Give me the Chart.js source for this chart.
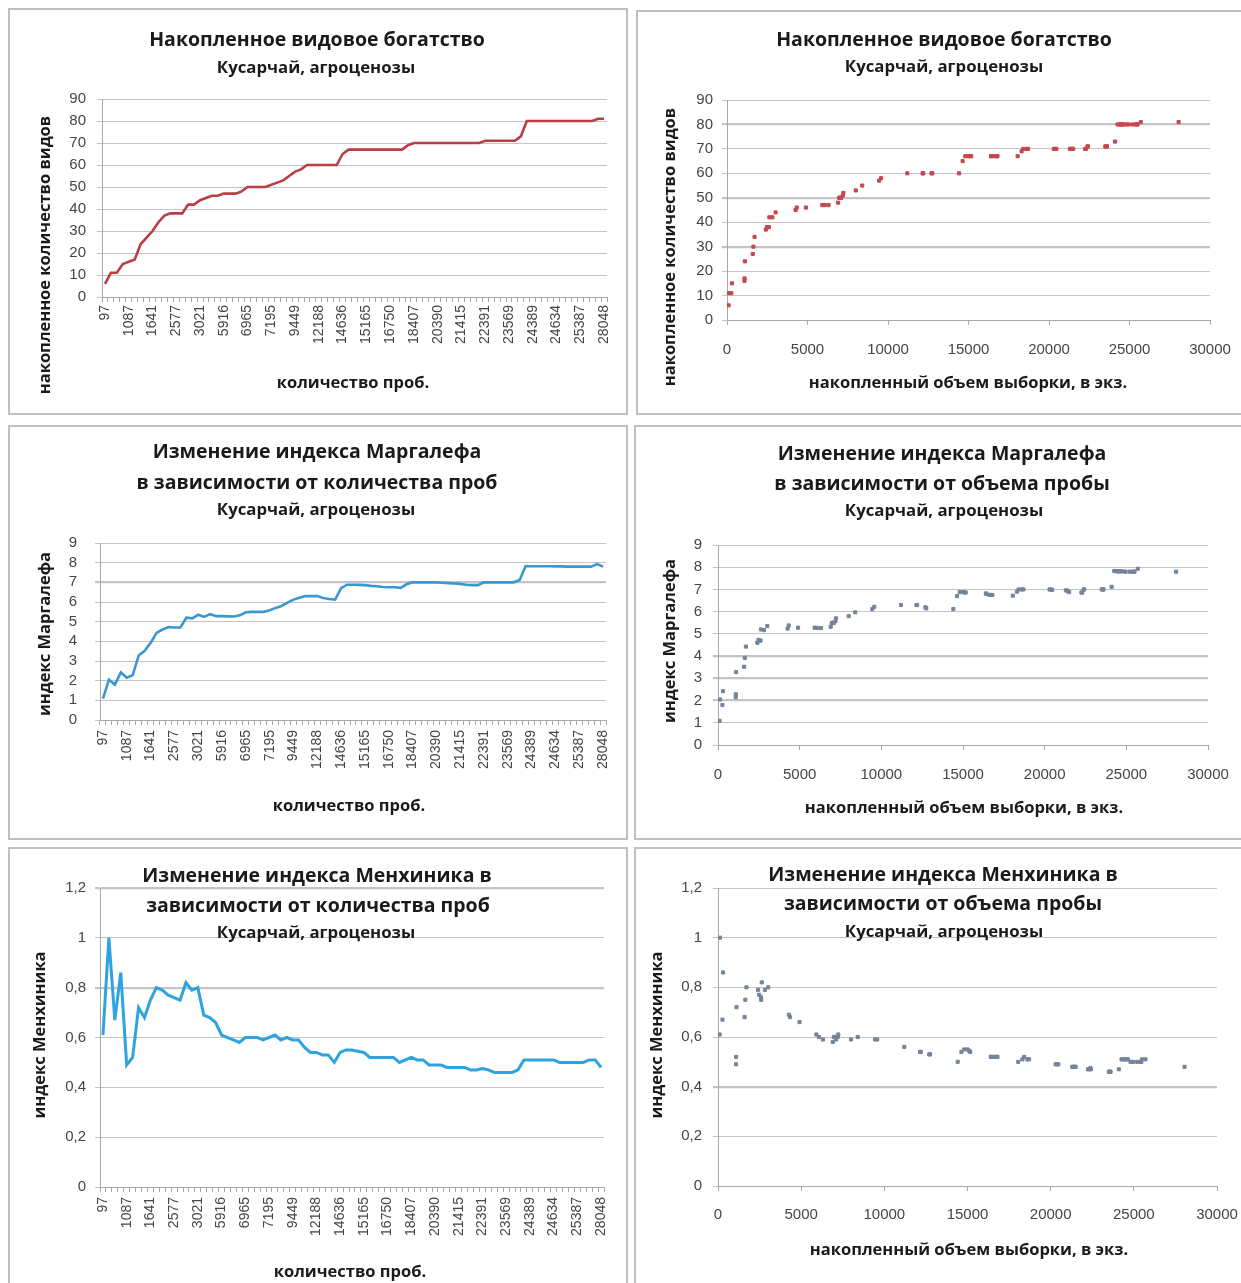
<!DOCTYPE html>
<html>
<head>
<meta charset="utf-8">
<script src="https://cdn.jsdelivr.net/npm/chart.js@4.4.1/dist/chart.umd.min.js"></script>
<style>
  html, body { margin: 0; padding: 0; background: #fff; }
  body { width: 1241px; height: 1283px; position: relative; overflow: hidden; }
  canvas { position: absolute; }
  .frame { position: absolute; box-sizing: border-box; border: 2px solid #c0c0c0; pointer-events: none; }
</style>
</head>
<body>
<script>
// Cumulative sample size (specimens) after each successive sample
const sampleSizes = [97,121,270,304,1087,1090,1110,1600,1641,1710,2410,2480,2577,2600,2630,2820,3021,4260,4330,4900,
  5916,6070,6310,6900,6965,7000,7050,7100,7195,7230,8000,8400,9449,9570,11200,12150,12188,12700,12750,14410,
  14636,14800,15000,15100,15165,16400,16430,16600,16750,16800,18050,18300,18407,18600,18700,20300,20390,20460,21300,21400,
  21415,21500,22250,22300,22391,22420,23500,23550,23569,23600,24100,24260,24389,24450,24500,24580,24634,24800,24950,25200,
  25387,25450,25500,25700,28048];

// Cumulative number of species
const speciesRichness = [6,11,11,15,16,17,24,27,30,34,37,38,38,38,42,42,44,45,46,46,
  47,47,47,48,50,50,50,50,51,52,53,55,57,58,60,60,60,60,60,60,
  65,67,67,67,67,67,67,67,67,67,67,69,70,70,70,70,70,70,70,70,
  70,70,70,70,71,71,71,71,71,71,73,80,80,80,80,80,80,80,80,80,
  80,80,80,81,81];

// Margalef index
const margalefIndex = [1.09,2.05,1.8,2.42,2.15,2.28,3.28,3.52,3.92,4.43,4.6,4.73,4.7,4.7,5.2,5.17,5.35,5.24,5.38,5.28,
  5.28,5.27,5.26,5.32,5.48,5.5,5.5,5.5,5.58,5.7,5.8,5.97,6.12,6.22,6.3,6.3,6.3,6.2,6.15,6.12,
  6.7,6.88,6.88,6.87,6.86,6.82,6.8,6.76,6.75,6.75,6.72,6.9,7.0,7.0,7.0,7.0,7.0,6.98,6.96,6.94,
  6.92,6.88,6.86,6.86,7.0,7.0,7.0,7.0,7.0,7.0,7.12,7.83,7.82,7.82,7.82,7.82,7.81,7.81,7.8,7.8,
  7.8,7.8,7.8,7.93,7.8];

// Menhinick index
const menhinickIndex = [0.61,1.0,0.67,0.86,0.49,0.52,0.72,0.68,0.75,0.8,0.79,0.77,0.76,0.75,0.82,0.79,0.8,0.69,0.68,0.66,
  0.61,0.6,0.59,0.58,0.6,0.6,0.6,0.59,0.6,0.61,0.59,0.6,0.59,0.59,0.56,0.54,0.54,0.53,0.53,0.5,
  0.54,0.55,0.55,0.545,0.54,0.52,0.52,0.52,0.52,0.52,0.5,0.51,0.52,0.51,0.51,0.49,0.49,0.49,0.48,0.48,
  0.48,0.48,0.47,0.47,0.475,0.47,0.46,0.46,0.46,0.46,0.47,0.51,0.51,0.51,0.51,0.51,0.51,0.5,0.5,0.5,
  0.5,0.5,0.51,0.51,0.48];

// Every 4th sample gets a label on the category axes
const LABEL_EVERY = 4;

const FONT_TEXT = "'Open Sans', 'DejaVu Sans', sans-serif";
const FONT_TICK = "'Liberation Sans', Arial, sans-serif";
const TEXT_COLOR = '#1a1a1a';
const TICK_COLOR = '#454545';
const GRID_COLOR = '#c4c4c4';
const AXIS_COLOR = '#a8a8a8';

Chart.defaults.animation = false;
Chart.defaults.font.family = FONT_TICK;

// Draws title lines and axis titles at fixed page positions
const panelText = {
  id: 'panelText',
  afterDraw(chart, args, opts) {
    const ctx = chart.ctx;
    for (const t of opts.items) {
      ctx.save();
      ctx.font = `bold ${t.size}px ${FONT_TEXT}`;
      ctx.fillStyle = TEXT_COLOR;
      ctx.textAlign = 'center';
      ctx.textBaseline = 'middle';
      ctx.translate(t.x - opts.ox, t.y - opts.oy);
      if (t.rotate) ctx.rotate(-Math.PI / 2);
      ctx.fillText(t.text, 0, 0);
      ctx.restore();
    }
  }
};

function makePanel(panel) {
  const c = document.createElement('canvas');
  c.width = panel.w; c.height = panel.h;
  Object.assign(c.style, { left: panel.x + 'px', top: panel.y + 'px', width: panel.w + 'px', height: panel.h + 'px' });
  document.body.appendChild(c);
  const f = document.createElement('div');
  f.className = 'frame';
  Object.assign(f.style, { left: panel.x + 'px', top: panel.y + 'px', width: panel.w + 'px', height: panel.h + 'px' });
  document.body.appendChild(f);
  return c;
}

function yScale(panel, plot, cfg) {
  const heavy = cfg.heavy || [];
  return {
    type: 'linear', min: cfg.min, max: cfg.max,
    ticks: {
      stepSize: cfg.step, padding: cfg.pad, color: TICK_COLOR,
      autoSkip: false, maxTicksLimit: 50,
      font: { family: FONT_TICK, size: 15, lineHeight: 1 },
      callback: cfg.format || (v => String(v))
    },
    grid: {
      color: GRID_COLOR, tickLength: 5,
      lineWidth: c => (c.tick && heavy.some(h => Math.abs(h - c.tick.value) < 1e-6)) ? 2.2 : 1
    },
    border: { display: true, color: AXIS_COLOR, width: 1 },
    afterFit: s => { s.width = plot.L - panel.x; }
  };
}

function categoryX(panel, plot, pad) {
  return {
    type: 'category', offset: true,
    ticks: {
      autoSkip: false, minRotation: 90, maxRotation: 90, padding: pad, color: TICK_COLOR,
      font: { family: FONT_TICK, size: 14 },
      callback: function (v, i) { return i % LABEL_EVERY === 0 ? this.getLabelForValue(v) : ''; }
    },
    grid: { drawOnChartArea: false, drawTicks: true, tickLength: 5, color: AXIS_COLOR, offset: true },
    border: { display: true, color: AXIS_COLOR, width: 1 },
    afterFit: s => { s.height = panel.y + panel.h - plot.B; }
  };
}

function linearX(panel, plot, pad) {
  return {
    type: 'linear', min: 0, max: 30000,
    ticks: { stepSize: 5000, padding: pad, color: TICK_COLOR, font: { family: FONT_TICK, size: 15 }, callback: v => String(v) },
    grid: { drawOnChartArea: false, drawTicks: true, tickLength: 5, color: AXIS_COLOR },
    border: { display: true, color: AXIS_COLOR, width: 1 },
    afterFit: s => { s.height = panel.y + panel.h - plot.B; }
  };
}

function layoutFor(panel, plot) {
  return { padding: { left: 0, bottom: 0, top: plot.T - panel.y, right: panel.x + panel.w - plot.R } };
}

function build(spec) {
  const { panel, plot } = spec;
  const canvas = makePanel(panel);
  const isLine = spec.kind === 'line';
  const dataset = isLine
    ? { data: spec.values, borderColor: spec.color, borderWidth: spec.width, pointRadius: 0, tension: 0, fill: false }
    : {
        data: sampleSizes.map((x, i) => ({ x, y: spec.values[i] })),
        pointStyle: 'rect', pointRadius: 2.2, borderWidth: 1,
        backgroundColor: spec.color, borderColor: spec.color, showLine: false
      };
  new Chart(canvas, {
    type: isLine ? 'line' : 'scatter',
    data: isLine ? { labels: sampleSizes.map(String), datasets: [dataset] } : { datasets: [dataset] },
    options: {
      responsive: false, maintainAspectRatio: false,
      layout: layoutFor(panel, plot),
      plugins: {
        legend: { display: false }, tooltip: { enabled: false },
        panelText: { items: spec.texts, ox: panel.x, oy: panel.y }
      },
      scales: {
        x: isLine ? categoryX(panel, plot, spec.xPad) : linearX(panel, plot, spec.xPad),
        y: yScale(panel, plot, spec.y)
      }
    },
    plugins: [panelText]
  });
}

const commaDecimal = v => String(Math.round(v * 10) / 10).replace('.', ',');
const SUB = 'Кусарчай, агроценозы';
const T1 = 19.5, T2 = 16.8, TA = 16.5;

build({
  kind: 'line', values: speciesRichness, color: '#bb3d46', width: 2.6,
  panel: { x: 8, y: 8, w: 620, h: 407 }, plot: { L: 102, R: 607, T: 99, B: 297 }, xPad: 3,
  y: { min: 0, max: 90, step: 10, pad: 11 },
  texts: [
    { text: 'Накопленное видовое богатство', x: 317, y: 40, size: T1 },
    { text: SUB, x: 316, y: 68, size: T2 },
    { text: 'количество проб.', x: 353, y: 383, size: TA },
    { text: 'накопленное количество видов', x: 45, y: 255, size: TA, rotate: true }
  ]
});

build({
  kind: 'scatter', values: speciesRichness, color: '#c4484d',
  panel: { x: 636, y: 10, w: 620, h: 405 }, plot: { L: 727, R: 1210, T: 100, B: 320 }, xPad: 16,
  y: { min: 0, max: 90, step: 10, pad: 9, heavy: [30, 50, 80] },
  texts: [
    { text: 'Накопленное видовое богатство', x: 944, y: 40, size: T1 },
    { text: SUB, x: 944, y: 67, size: T2 },
    { text: 'накопленный объем выборки, в экз.', x: 968, y: 383, size: TA },
    { text: 'накопленное количество видов', x: 670, y: 247, size: TA, rotate: true }
  ]
});

build({
  kind: 'line', values: margalefIndex, color: '#3a98d0', width: 2.6,
  panel: { x: 8, y: 425, w: 620, h: 415 }, plot: { L: 100, R: 606, T: 543, B: 720 }, xPad: 5,
  y: { min: 0, max: 9, step: 1, pad: 18, heavy: [7] },
  texts: [
    { text: 'Изменение индекса Маргалефа', x: 317, y: 452, size: T1 },
    { text: 'в зависимости от количества проб', x: 317, y: 483, size: T1 },
    { text: SUB, x: 316, y: 510, size: T2 },
    { text: 'количество проб.', x: 349, y: 806, size: TA },
    { text: 'индекс Маргалефа', x: 45, y: 634, size: TA, rotate: true }
  ]
});

build({
  kind: 'scatter', values: margalefIndex, color: '#75849a',
  panel: { x: 634, y: 425, w: 620, h: 415 }, plot: { L: 718, R: 1208, T: 545, B: 745 }, xPad: 16,
  y: { min: 0, max: 9, step: 1, pad: 11, heavy: [2, 3, 4] },
  texts: [
    { text: 'Изменение индекса Маргалефа', x: 942, y: 454, size: T1 },
    { text: 'в зависимости от объема пробы', x: 942, y: 484, size: T1 },
    { text: SUB, x: 944, y: 511, size: T2 },
    { text: 'накопленный объем выборки, в экз.', x: 964, y: 808, size: TA },
    { text: 'индекс Маргалефа', x: 670, y: 641, size: TA, rotate: true }
  ]
});

build({
  kind: 'line', values: menhinickIndex, color: '#2ea3de', width: 3,
  panel: { x: 8, y: 847, w: 620, h: 446 }, plot: { L: 100, R: 604, T: 888, B: 1187 }, xPad: 5,
  y: { min: 0, max: 1.2, step: 0.2, pad: 9, heavy: [0.8, 1.2], format: commaDecimal },
  texts: [
    { text: 'Изменение индекса Менхиника в', x: 317, y: 876, size: T1 },
    { text: 'зависимости от количества проб', x: 318, y: 906, size: T1 },
    { text: SUB, x: 316, y: 933, size: T2 },
    { text: 'количество проб.', x: 350, y: 1272, size: TA },
    { text: 'индекс Менхиника', x: 40, y: 1035, size: TA, rotate: true }
  ]
});

build({
  kind: 'scatter', values: menhinickIndex, color: '#75849a',
  panel: { x: 634, y: 847, w: 620, h: 446 }, plot: { L: 718, R: 1217, T: 888, B: 1186 }, xPad: 15,
  y: { min: 0, max: 1.2, step: 0.2, pad: 11, heavy: [0.4], format: commaDecimal },
  texts: [
    { text: 'Изменение индекса Менхиника в', x: 943, y: 875, size: T1 },
    { text: 'зависимости от объема пробы', x: 943, y: 904, size: T1 },
    { text: SUB, x: 944, y: 932, size: T2 },
    { text: 'накопленный объем выборки, в экз.', x: 969, y: 1250, size: TA },
    { text: 'индекс Менхиника', x: 657, y: 1035, size: TA, rotate: true }
  ]
});
</script>
</body>
</html>
